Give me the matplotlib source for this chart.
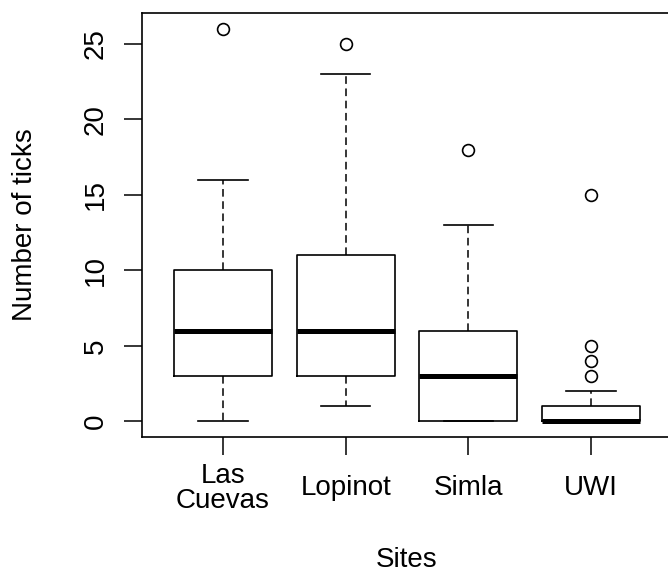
import matplotlib
matplotlib.use('Agg')
import matplotlib.pyplot as plt

sites = ['Las\nCuevas', 'Lopinot', 'Simla', 'UWI']
whislo = [0, 1, 0, 0]
q1 = [3, 3, 0, 0]
med = [6, 6, 3, 0]
q3 = [10, 11, 6, 1]
whishi = [16, 23, 13, 2]
fliers = [[26], [25], [18], [3, 4, 5, 15]]
yticks = [0, 5, 10, 15, 20, 25]

plt.rcParams['font.family'] = ['Liberation Sans', 'DejaVu Sans']

stats = []
for i in range(len(sites)):
    stats.append(dict(whislo=whislo[i], q1=q1[i], med=med[i], q3=q3[i],
                      whishi=whishi[i], fliers=fliers[i]))

fig = plt.figure(figsize=(6.68, 5.73), dpi=100)
# R-style plot region; right edge of the frame falls just outside the image
ax = fig.add_axes([142 / 668, 1 - 437 / 573, 530 / 668, 424 / 573])

ax.bxp(stats, positions=range(1, len(sites) + 1), widths=0.8,
       boxprops=dict(color='black', linewidth=1.2),
       medianprops=dict(color='black', linewidth=3.6, solid_capstyle='butt'),
       whiskerprops=dict(color='black', linewidth=1.1, linestyle=(0, (5, 3))),
       capprops=dict(color='black', linewidth=1.2),
       capwidths=0.4,
       flierprops=dict(marker='o', markerfacecolor='none', markeredgecolor='black',
                       markersize=8.5, markeredgewidth=1.2))

ax.set_xlim(0.34, 4.66)
ax.set_ylim(-1.04, 27.04)
ax.set_yticks(yticks)
ax.set_yticklabels([str(t) for t in yticks], fontsize=20, rotation=90, va='center')
ax.set_xticks(range(1, len(sites) + 1))
ax.set_xticklabels(sites, fontsize=20, linespacing=0.95, va='center')
ax.tick_params(axis='both', length=13, width=1.1, color='black')
ax.tick_params(axis='x', pad=24)
ax.tick_params(axis='y', pad=11)
for s in ax.spines.values():
    s.set_linewidth(1.2)

ax.set_xlabel('Sites', fontsize=20)
ax.xaxis.set_label_coords(0.5, -0.26)
ax.set_ylabel('Number of ticks', fontsize=20)
ax.yaxis.set_label_coords(-0.196, 0.5)

fig.savefig('out.png', dpi=100)
